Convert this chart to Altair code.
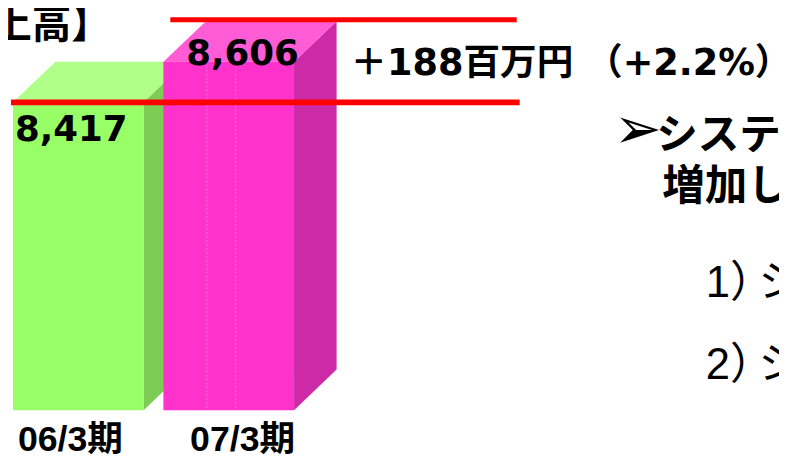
import altair as alt
import pandas as pd

# ---- data ----
CATEGORIES = ["06/3期", "07/3期"]
VALUES = [8417, 8606]
FRONT_COLORS = ["#99FF66", "#FF33CC"]
TOP_COLORS = ["#AFFF88", "#FF5CD6"]
SIDE_COLORS = ["#7CCC55", "#CC2AA6"]
TITLE = "【売上高】"
CHANGE_TEXT = "＋188百万円 （+2.2%）"
BULLET_MARK = "➢"
BULLET_LINES = ["システム", "増加し"]
SUB_NUMS = ["1）", "2）"]
SUB_TEXTS = ["シ", "シ"]

# ---- layout ----
W, H = 779, 452
PX_PER_UNIT = 41 / 189.0
YMAX = VALUES[0] + 93 / PX_PER_UNIT
YMIN = YMAX - H / PX_PER_UNIT
BASE = YMAX - 404 / PX_PER_UNIT
DEPTH_X = 43
DEPTH_Y = 41 / PX_PER_UNIT
LEFT0, STEP, BAR_W = 5, 152, 132

xs = alt.Scale(domain=[0, W], range=[0, W], nice=False, zero=False)
ys = alt.Scale(domain=[YMIN, YMAX], nice=False, zero=False)

front_rows, side_rows, top_rows = [], [], []
for i, (c, v) in enumerate(zip(CATEGORIES, VALUES)):
    left = LEFT0 + STEP * i
    right = left + BAR_W
    front_rows.append(dict(cat=c, left=left, right=right, top=v, bottom=BASE,
                           color=FRONT_COLORS[i]))
    side_rows.append(dict(cat=c, x=right, top=v, bottom=BASE, color=SIDE_COLORS[i]))
    side_rows.append(dict(cat=c, x=right + DEPTH_X, top=v + DEPTH_Y,
                          bottom=BASE + DEPTH_Y, color=SIDE_COLORS[i]))
    top_rows.append(dict(cat=c, y=v, xl=left, xr=right, color=TOP_COLORS[i]))
    top_rows.append(dict(cat=c, y=v + DEPTH_Y, xl=left + DEPTH_X, xr=right + DEPTH_X,
                         color=TOP_COLORS[i]))

front_df = pd.DataFrame(front_rows)
side_df = pd.DataFrame(side_rows)
top_df = pd.DataFrame(top_rows)

sides = alt.Chart(side_df).mark_area(interpolate="linear").encode(
    x=alt.X("x:Q", scale=xs, axis=None),
    y=alt.Y("top:Q", scale=ys, axis=None),
    y2="bottom:Q",
    color=alt.Color("color:N", scale=None),
    detail="cat:N",
)
tops = alt.Chart(top_df).mark_area(orient="horizontal", interpolate="linear").encode(
    y=alt.Y("y:Q", scale=ys, axis=None),
    x=alt.X("xl:Q", scale=xs, axis=None),
    x2="xr:Q",
    color=alt.Color("color:N", scale=None),
    detail="cat:N",
)
fronts = alt.Chart(front_df).mark_rect().encode(
    x=alt.X("left:Q", scale=xs, axis=None),
    x2="right:Q",
    y=alt.Y("top:Q", scale=ys, axis=None),
    y2="bottom:Q",
    color=alt.Color("color:N", scale=None),
)

# faint dotted guide lines on the pink box (front and side)
guide_df = pd.DataFrame({
    "x": [LEFT0 + STEP + BAR_W / 3, LEFT0 + STEP + BAR_W * 0.553],
    "top": [VALUES[1]] * 2, "bottom": [BASE] * 2})
guides = alt.Chart(guide_df).mark_rule(color="#FF88E0", strokeWidth=1,
                                       strokeDash=[2, 2], opacity=0.8).encode(
    x=alt.X("x:Q", scale=xs, axis=None),
    y=alt.Y("top:Q", scale=ys, axis=None), y2="bottom:Q")

# red reference lines at the two levels
low_line = alt.Chart(pd.DataFrame({"y": [VALUES[0]], "x1": [LEFT0 - 2], "x2": [517]})).mark_rule(
    color="#FF0000", strokeWidth=6).encode(
    x=alt.X("x1:Q", scale=xs, axis=None), x2="x2:Q",
    y=alt.Y("y:Q", scale=ys, axis=None))
high_line = alt.Chart(pd.DataFrame({"y": [VALUES[1] + DEPTH_Y + 1.5 / PX_PER_UNIT],
                                    "x1": [LEFT0 + STEP + 7], "x2": [514]})).mark_rule(
    color="#FF0000", strokeWidth=5).encode(
    x=alt.X("x1:Q", scale=xs, axis=None), x2="x2:Q",
    y=alt.Y("y:Q", scale=ys, axis=None))


def value_label(i, dx, dy):
    df = pd.DataFrame({"txt": [f"{VALUES[i]:,}"], "x": [LEFT0 + STEP * i], "y": [VALUES[i]]})
    return alt.Chart(df).mark_text(
        font="DejaVu Sans", fontWeight="bold", fontSize=36, align="left",
        baseline="alphabetic", color="#000000", dx=dx, dy=dy).encode(
        x=alt.X("x:Q", scale=xs, axis=None),
        y=alt.Y("y:Q", scale=ys, axis=None),
        text="txt:N")


def cat_label(i, dx):
    df = pd.DataFrame({"cat": [CATEGORIES[i]], "x": [LEFT0 + STEP * i], "y": [BASE]})
    return alt.Chart(df).mark_text(
        font="Liberation Sans, Noto Sans CJK JP", fontWeight="bold", fontSize=36,
        align="left", baseline="alphabetic", dx=dx, dy=41, color="#000000").encode(
        x=alt.X("x:Q", scale=xs, axis=None),
        y=alt.Y("y:Q", scale=ys, axis=None),
        text="cat:N")


def free_text(txt, x, y, size, weight="bold", font="Noto Sans CJK JP", align="left"):
    return alt.Chart(pd.DataFrame({"t": [txt]})).mark_text(
        font=font, fontWeight=weight, fontSize=size, align=align,
        baseline="alphabetic", color="#000000").encode(
        text="t:N", x=alt.value(x), y=alt.value(y))


texts = [
    free_text(TITLE, 104, 28, 40, align="right"),
    free_text(CHANGE_TEXT, 346, 65, 37, font="DejaVu Sans, Noto Sans CJK JP"),
    free_text(BULLET_MARK, 612, 139, 58, weight="normal", font="DejaVu Sans"),
    free_text(BULLET_LINES[0], 655, 140, 42),
    free_text(BULLET_LINES[1], 661, 192, 43),
    free_text(SUB_NUMS[0], 705, 290, 44, weight="normal",
              font="Liberation Sans, Noto Sans CJK JP"),
    free_text(SUB_TEXTS[0], 758, 290, 44, weight="normal"),
    free_text(SUB_NUMS[1], 705, 372, 44, weight="normal",
              font="Liberation Sans, Noto Sans CJK JP"),
    free_text(SUB_TEXTS[1], 758, 372, 44, weight="normal"),
]

chart = alt.layer(sides, tops, fronts, guides, low_line, high_line,
                  value_label(0, 2, 39), value_label(1, 23, 3),
                  cat_label(0, 5), cat_label(1, 27),
                  *texts).properties(
    width=W, height=H, padding=0, autosize="none", background="#FFFFFF"
).configure_view(strokeWidth=0)

chart.save("out.html", embed_options={"renderer": "svg", "actions": False})
